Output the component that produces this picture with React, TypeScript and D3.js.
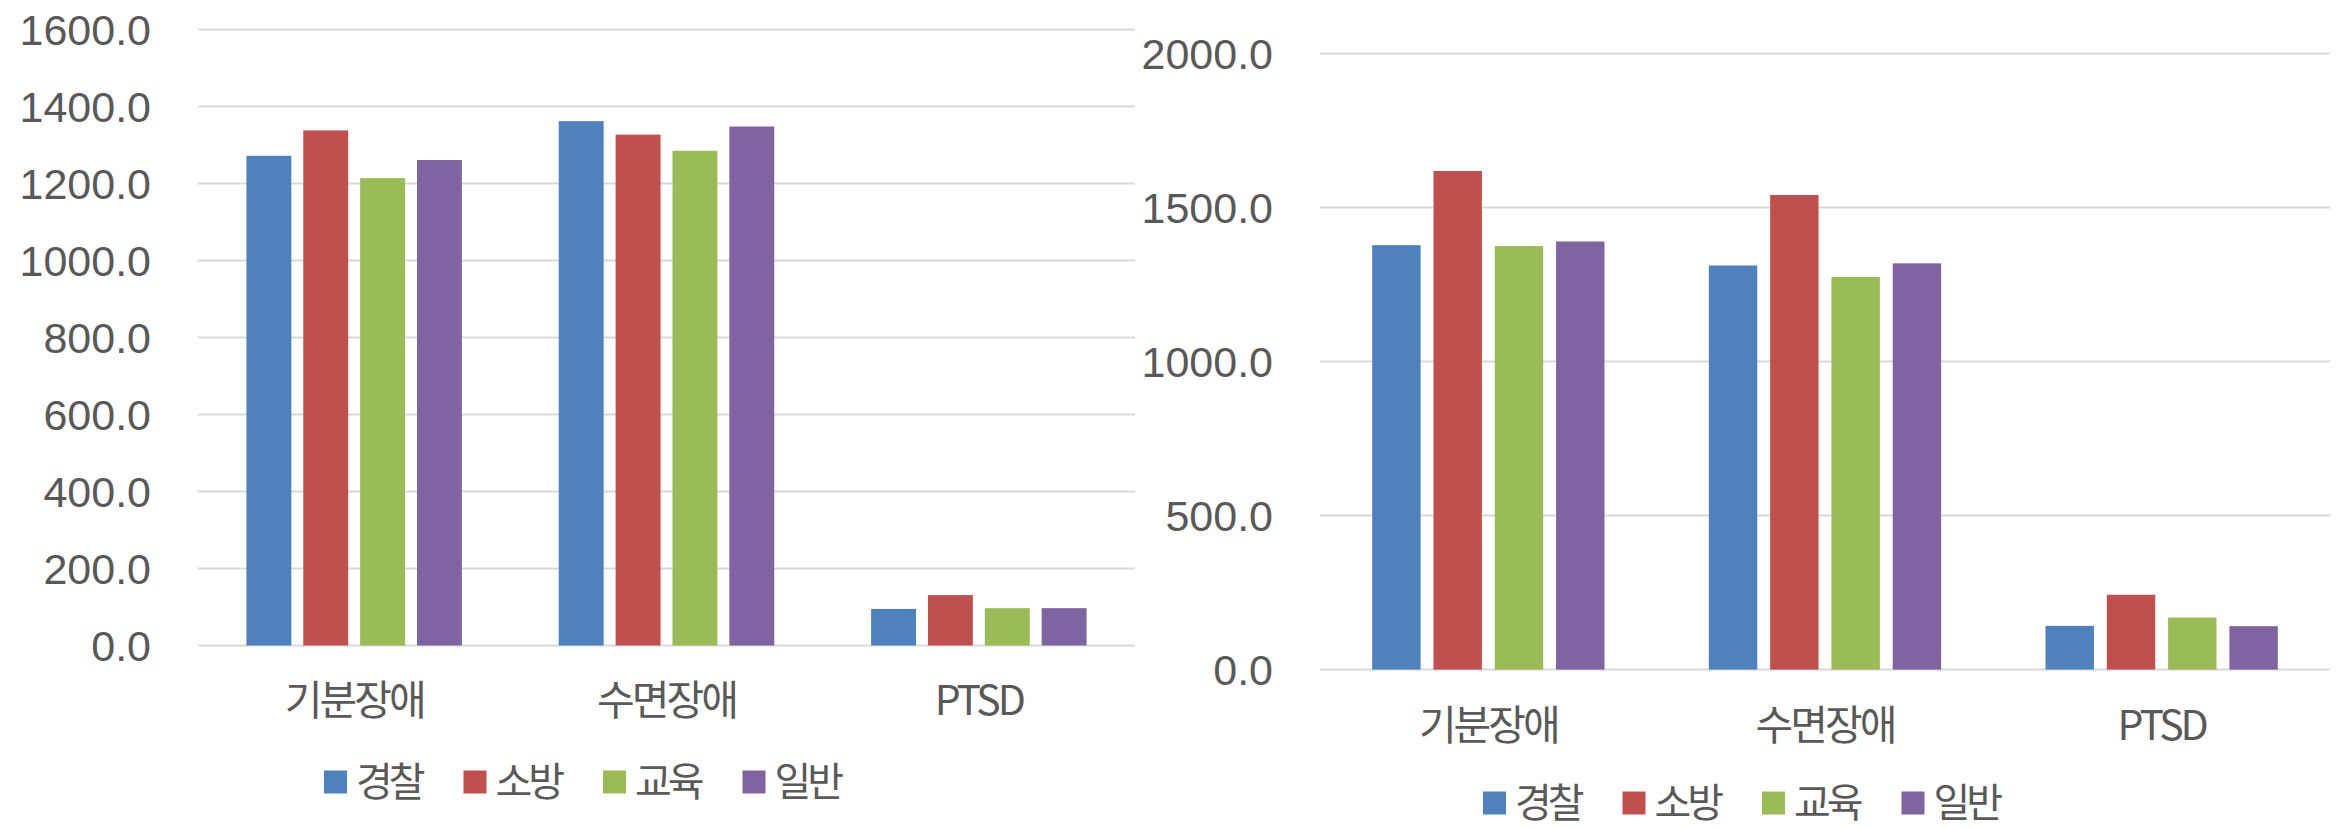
import React from 'react';
import * as d3 from 'd3';

const categories = ['기분장애', '수면장애', 'PTSD'];
const seriesNames = ['경찰', '소방', '교육', '일반'];
const colors = ['#4F81BD', '#C0504D', '#9BBB59', '#8064A2'];

// left chart values (by series, in category order)
const leftPolice = [1272, 1362, 95];
const leftFire = [1338, 1327, 131];
const leftEdu = [1214, 1285, 97];
const leftGeneral = [1261, 1348, 97];
const leftTicks = [0, 200, 400, 600, 800, 1000, 1200, 1400, 1600];

// right chart values
const rightPolice = [1378, 1312, 142];
const rightFire = [1619, 1541, 243];
const rightEdu = [1375, 1275, 169];
const rightGeneral = [1390, 1319, 141];
const rightTicks = [0, 500, 1000, 1500, 2000];

const FONT = '"Noto Sans CJK KR", "Noto Sans", sans-serif';
const NUM_FONT = '"Liberation Sans", Arial, sans-serif';
const TEXT = '#595959';

type ChartProps = {
  series: number[][];
  ticks: number[];
  x0: number;
  x1: number;
  yTop: number;
  yBottom: number;
  catLabelY: number;
  legendX: number;
  legendY: number;
};

const BarChart = ({ series, ticks, x0, x1, yTop, yBottom, catLabelY, legendX, legendY }: ChartProps) => {
  const y = d3.scaleLinear().domain([0, d3.max(ticks) as number]).range([yBottom, yTop]);
  const xCat = d3.scaleBand<string>().domain(categories).range([x0, x1])
    .paddingInner(0.31).paddingOuter(0.155);
  const xSer = d3.scaleBand<string>().domain(seriesNames).range([0, xCat.bandwidth()])
    .paddingInner(0.21);

  return (
    <g>
      {/* 격자선 */}
      {ticks.map(t => (
        <g key={t}>
          <line x1={x0} x2={x1} y1={y(t)} y2={y(t)} stroke="#d9d9d9" strokeWidth={2} />
          <text x={x0 - 47} y={y(t)} dy="0.36em" textAnchor="end" fill={TEXT}
            fontSize={43} fontFamily={NUM_FONT}>{t.toFixed(1)}</text>
        </g>
      ))}
      {/* 막대 */}
      {categories.map((c, ci) => (
        <g key={c} transform={`translate(${xCat(c)},0)`}>
          {seriesNames.map((s, si) => (
            <rect key={s} x={xSer(s)} width={xSer.bandwidth()}
              y={y(series[si][ci])} height={yBottom - y(series[si][ci])} fill={colors[si]} />
          ))}
        </g>
      ))}
      {categories.map(c => (
        <text key={c} x={(xCat(c) as number) + xCat.bandwidth() / 2} y={catLabelY} dy="0.36em"
          textAnchor="middle" fill={TEXT} fontSize={41} letterSpacing={-3} fontFamily={FONT}>{c}</text>
      ))}
      {/* 범례 */}
      {seriesNames.map((s, i) => (
        <g key={s} transform={`translate(${legendX + i * 139.5},${legendY})`}>
          <rect x={0} y={-11.5} width={23} height={23} fill={colors[i]} />
          <text x={32} y={0} dy="0.36em" fill={TEXT} fontSize={40} letterSpacing={-4}
            fontFamily={FONT}>{s}</text>
        </g>
      ))}
    </g>
  );
};

export default function App() {
  return (
    <svg width={2346} height={828} style={{ position: 'absolute', left: 0, top: 0, background: '#fff' }}>
      <rect width={2346} height={828} fill="#fff" />
      <BarChart series={[leftPolice, leftFire, leftEdu, leftGeneral]} ticks={leftTicks}
        x0={198} x1={1135} yTop={29.5} yBottom={645.5} catLabelY={700}
        legendX={324} legendY={782} />
      <BarChart series={[rightPolice, rightFire, rightEdu, rightGeneral]} ticks={rightTicks}
        x0={1320} x1={2330} yTop={53.6} yBottom={669.6} catLabelY={725}
        legendX={1483} legendY={803} />
    </svg>
  );
}
